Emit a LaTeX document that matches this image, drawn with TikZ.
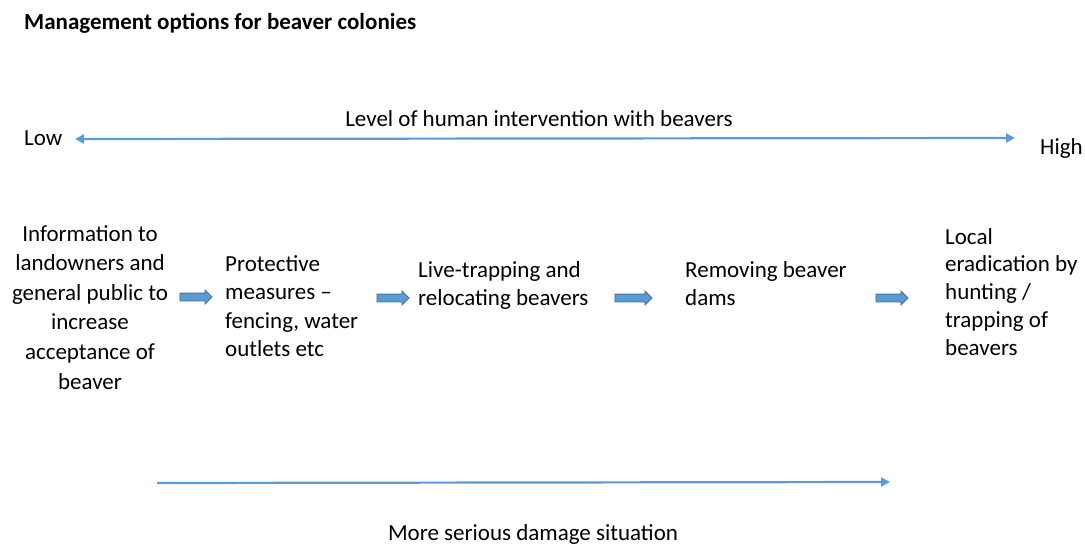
\documentclass[tikz,border=0pt]{standalone}
\usepackage{fontspec}
\setmainfont{Carlito}
\usetikzlibrary{arrows.meta,shapes.arrows}
\definecolor{lineblue}{HTML}{5B9BD5}
\definecolor{arrowedge}{HTML}{41719C}
\tikzset{mytip/.tip={Triangle[length=9pt,width=9pt]}}
\begin{document}
\begin{tikzpicture}[x=1pt,y=-1pt,
  txt/.style={inner sep=0pt,font=\fontsize{23}{28.5}\selectfont},
  optbox/.style={txt,anchor=north west,align=left},
  scaleline/.style={draw=lineblue,line width=2.2pt},
  blockarrow/.style={single arrow,draw=arrowedge,fill=lineblue,line width=0.8pt,
    inner sep=3.5pt,single arrow head extend=3pt,minimum height=32pt,minimum width=13pt}]
\useasboundingbox (0,0) rectangle (1085,547);
\node[txt,anchor=base west,font=\bfseries\fontsize{23}{28}\selectfont] (title) at (24,29) {Management options for beaver colonies};
\node[txt,anchor=base west] (low) at (24,145) {Low};
\node[txt,anchor=base] (level) at (539,126) {Level of human intervention with beavers};
\node[txt,anchor=base west] (high) at (1040,154) {High};
\coordinate (topL) at (75,139);
\coordinate (topR) at (1015,138);
\draw[scaleline,mytip-mytip] (topL) -- (topR);

\node[txt,anchor=north,align=center,font=\fontsize{23}{29.6}\selectfont] (info) at (90,225) {Information to\\landowners and\\general public to\\increase\\acceptance of\\beaver};
\node[optbox] (protect) at (225,255) {Protective\\measures --\\fencing, water\\outlets etc};
\node[optbox] (live) at (418,261) {Live-trapping and\\relocating beavers};
\node[optbox] (dams) at (685,261) {Removing beaver\\dams};
\node[optbox,font=\fontsize{23}{27.8}\selectfont] (erad) at (945,228) {Local\\eradication by\\hunting /\\trapping of\\beavers};

\node[blockarrow] (a1) at (194,297) {};
\node[blockarrow] (a2) at (391,298) {};
\node[blockarrow,minimum height=37pt] (a3) at (631.5,298) {};
\node[blockarrow] (a4) at (890,298) {};

\coordinate (botL) at (157,483);
\coordinate (botR) at (890,482);
\draw[scaleline,-mytip] (botL) -- (botR);
\node[txt,anchor=base] (damage) at (533,540) {More serious damage situation};
\end{tikzpicture}
\end{document}
